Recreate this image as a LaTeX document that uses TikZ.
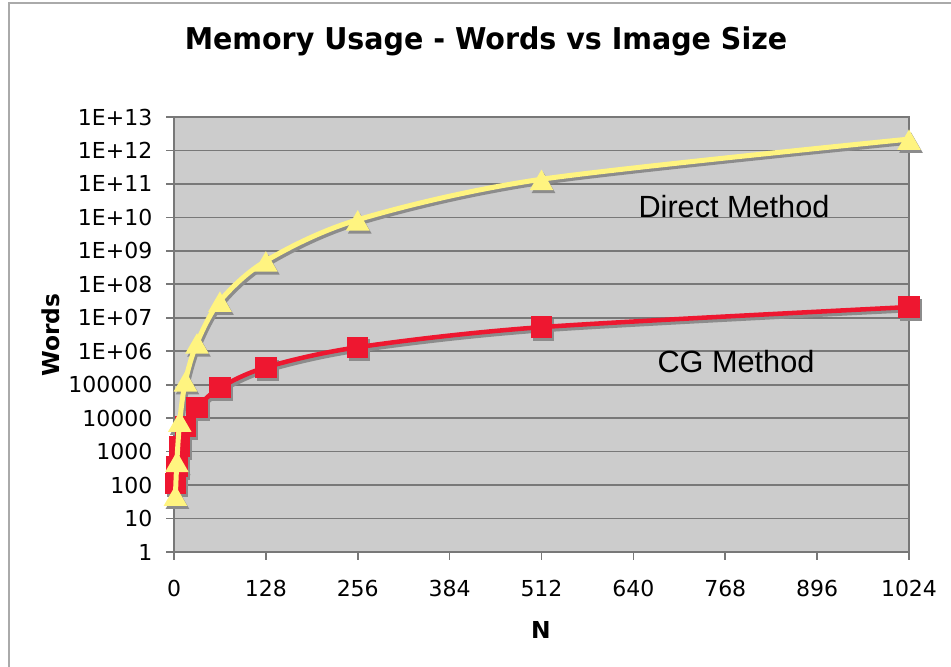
\documentclass[tikz,border=0pt]{standalone}
\usepackage{fontspec}
\setmainfont{DejaVu Sans}
\newfontfamily\titlefont{DejaVu Sans}[FakeStretch=0.95]
\newfontfamily\notefont{Liberation Sans}
\usepackage{xcolor}
\usetikzlibrary{shapes.geometric}

\definecolor{plotbg}{RGB}{204,204,204}
\definecolor{gridgray}{RGB}{120,120,120}
\definecolor{framegray}{RGB}{170,170,170}
\definecolor{directyellow}{RGB}{255,244,128}
\definecolor{cgred}{RGB}{238,23,48}
\definecolor{shadowgray}{RGB}{140,140,140}

\begin{document}
\begin{tikzpicture}[x=0.75pt,y=0.75pt,
		tick/.style={font=\fontsize{16.5}{18}\selectfont},
		axtitle/.style={font=\bfseries\fontsize{17.5}{20}\selectfont},
		curvelabel/.style={font=\notefont\fontsize{23}{26}\selectfont},
		trimark/.style={regular polygon, regular polygon sides=3, fill=directyellow, inner sep=0pt, minimum size=20.5pt, yshift=-3pt},
		sqmark/.style={rectangle, fill=cgred, inner sep=0pt, minimum size=16pt},
		gridline/.style={gridgray, line width=1.3pt}]
		\useasboundingbox (0,0) rectangle (951,667);
		
		% Outer chart frame (top and left edges)
		\draw[framegray, line width=1.5pt] (9,0) -- (9,664) -- (951,664);
		
		% Title
		\node[font=\titlefont\bfseries\fontsize{22.5}{26}\selectfont, anchor=base] (title) at (486,617)
		{Memory Usage - Words vs Image Size};
		
		% Plot area and grid
		\fill[plotbg] (174,115) rectangle (909,550);
		\foreach \k in {1,...,12} {
			\draw[gridline] (174,{115+33.46*\k}) -- (909,{115+33.46*\k});
		}
		\draw[gridline] (174,115) rectangle (909,550);
		
		% Log axis labels
		\foreach \lab [count=\k from 0] in {1,10,100,1000,10000,100000,1E+06,1E+07,1E+08,1E+09,1E+10,1E+11,1E+12,1E+13} {
			\draw[gridline] (166,{115+33.46*\k}) -- (174,{115+33.46*\k});
			\node[tick, anchor=east] (ylab\k) at (157,{115+33.46*\k}) {\lab};
		}
		
		% N axis labels
		\foreach \n [count=\i] in {0,128,...,1024} {
			\draw[gridline] ({174+0.71777*\n},107) -- ({174+0.71777*\n},115);
			\node[tick] (xlab\i) at ({174+0.71777*\n},79) {\n};
		}
		
		% Axis titles
		\node[axtitle, rotate=90] (ytitle) at (51,332) {Words};
		\node[axtitle] (xtitle) at (541,37) {N};
		
		% Data points (N / log10 words): direct method and CG method
		\foreach \n/\ld/\lc [count=\i] in {2/1.7/2.05, 4/2.71/2.55, 8/3.91/3.15, 16/5.12/3.75, 32/6.25/4.31,
			64/7.5/4.91, 128/8.7/5.52, 256/9.93/6.12, 512/11.14/6.72, 1024/12.34/7.32} {
			\pgfmathsetmacro\xx{174+0.71777*\n}
			\coordinate (dm\i) at (\xx,{115+33.46*\ld});
			\coordinate (cg\i) at (\xx,{115+33.46*\lc});
		}
		
		% Drop shadows
		\begin{scope}[transform canvas={shift={(1.5pt,-2.2pt)}}, shadowgray]
			\draw[line width=3.4pt, line join=round] plot[smooth] coordinates
			{(cg1) (cg2) (cg3) (cg4) (cg5) (cg6) (cg7) (cg8) (cg9) (cg10)};
			\draw[line width=3.75pt, line join=round] plot[smooth] coordinates
			{(dm1) (dm2) (dm3) (dm4) (dm5) (dm6) (dm7) (dm8) (dm9) (dm10)};
			\foreach \i in {1,...,10} {
				\node[sqmark, fill=shadowgray] (cgs\i) at (cg\i) {};
				\node[trimark, fill=shadowgray] (dms\i) at (dm\i) {};
			}
		\end{scope}
		
		% CG method curve
		\draw[cgred, line width=3.4pt, line join=round] plot[smooth] coordinates
		{(cg1) (cg2) (cg3) (cg4) (cg5) (cg6) (cg7) (cg8) (cg9) (cg10)};
		\foreach \i in {1,...,10}
		\node[sqmark] (cgm\i) at (cg\i) {};
		
		% Direct method curve
		\draw[directyellow, line width=3.75pt, line join=round] plot[smooth] coordinates
		{(dm1) (dm2) (dm3) (dm4) (dm5) (dm6) (dm7) (dm8) (dm9) (dm10)};
		\foreach \i in {1,...,10}
		\node[trimark] (dmm\i) at (dm\i) {};
		
		% Curve labels
		\node[curvelabel] (directlab) at (734,460) {Direct Method};
		\node[curvelabel] (cglab) at (736,305) {CG Method};
	\end{tikzpicture}
\end{document}
